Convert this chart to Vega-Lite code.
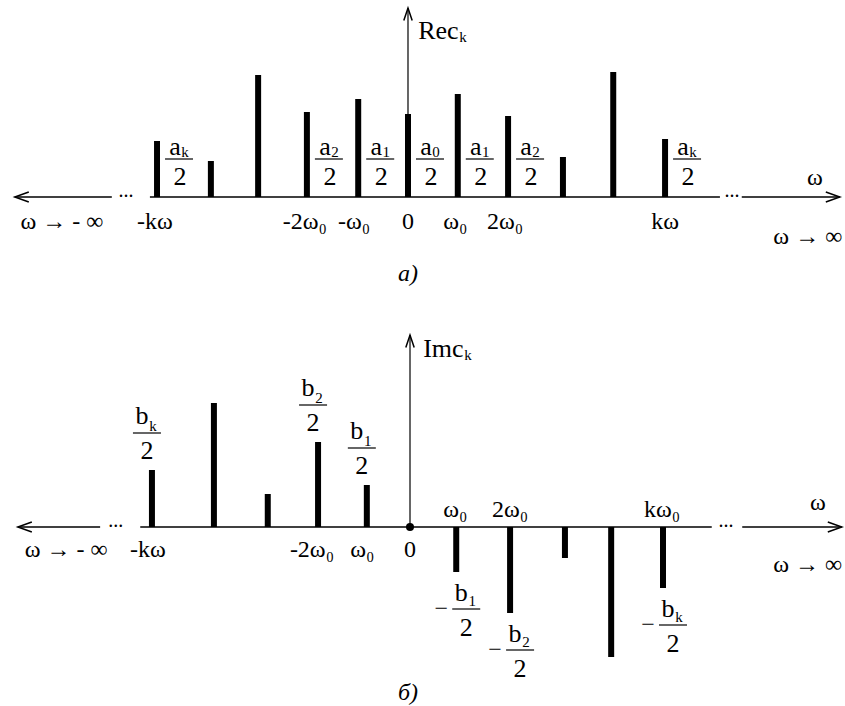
{
  "$schema": "https://vega.github.io/schema/vega-lite/v6.json",
  "padding": 0,
  "background": "white",
  "spacing": 0,
  "bounds": "flush",
  "config": {
    "view": {"stroke": null},
    "text": {"font": "Liberation Serif", "fontSize": 24, "color": "black"},
    "rule": {"color": "black"}
  },
  "datasets": {
    "re": [
      {"w": -4.94, "amp": 0.56, "sym": "a", "sub": "k"},
      {"w": -3.88, "amp": 0.36},
      {"w": -2.95, "amp": 1.22},
      {"w": -1.99, "amp": 0.85, "sym": "a", "sub": "2"},
      {"w": -0.98, "amp": 0.98, "sym": "a", "sub": "1"},
      {"w": 0, "amp": 0.83, "sym": "a", "sub": "0"},
      {"w": 0.98, "amp": 1.03, "sym": "a", "sub": "1"},
      {"w": 1.97, "amp": 0.81, "sym": "a", "sub": "2"},
      {"w": 3.05, "amp": 0.40},
      {"w": 4.04, "amp": 1.25},
      {"w": 5.06, "amp": 0.58, "sym": "a", "sub": "k"}
    ],
    "im": [
      {"w": -5.08, "amp": 0.57, "sym": "b", "sub": "k"},
      {"w": -3.86, "amp": 1.24},
      {"w": -2.80, "amp": 0.33},
      {"w": -1.81, "amp": 0.85, "sym": "b", "sub": "2"},
      {"w": -0.85, "amp": 0.42, "sym": "b", "sub": "1"},
      {"w": 0.91, "amp": -0.45, "sym": "b", "sub": "1"},
      {"w": 1.97, "amp": -0.86, "sym": "b", "sub": "2"},
      {"w": 3.05, "amp": -0.31},
      {"w": 3.96, "amp": -1.30},
      {"w": 4.98, "amp": -0.61, "sym": "b", "sub": "k"}
    ]
  },
  "vconcat": [
    {
      "width": 845,
      "height": 300,
      "layer": [
        {
          "data": {"values": [{"from": -7.74, "to": -5.83}, {"from": -5.08, "to": 6.14}, {"from": 6.57, "to": 8.5}]},
          "mark": {"type": "rule", "strokeWidth": 1.5},
          "encoding": {
            "x": {"field": "from", "type": "quantitative", "scale": {"domain": [-8.031, 8.602], "nice": false, "zero": false}, "axis": null},
            "x2": {"field": "to"},
            "y": {"datum": 0, "type": "quantitative", "scale": {"domain": [-1.03, 1.97], "nice": false, "zero": false}, "axis": null}
          }
        },
        {
          "data": {"values": [{"from": 0, "to": 1.89}]},
          "mark": {"type": "rule", "strokeWidth": 1.2},
          "encoding": {
            "x": {"datum": 0, "type": "quantitative", "scale": {"domain": [-8.031, 8.602], "nice": false, "zero": false}, "axis": null},
            "y": {"field": "from", "type": "quantitative", "scale": {"domain": [-1.03, 1.97], "nice": false, "zero": false}, "axis": null},
            "y2": {"field": "to"}
          }
        },
        {
          "data": {"values": [{"w": -7.74, "amp": 0, "dir": "left"}, {"w": 8.5, "amp": 0, "dir": "right"}, {"w": 0, "amp": 1.89, "dir": "up"}]},
          "mark": {"type": "point", "filled": false, "strokeWidth": 1.5, "size": 784, "opacity": 1, "color": "black"},
          "encoding": {
            "x": {"field": "w", "type": "quantitative", "scale": {"domain": [-8.031, 8.602], "nice": false, "zero": false}, "axis": null},
            "y": {"field": "amp", "type": "quantitative", "scale": {"domain": [-1.03, 1.97], "nice": false, "zero": false}, "axis": null},
            "shape": {"field": "dir", "type": "nominal", "scale": {"domain": ["left", "right", "up"], "range": ["M 1 -0.36 L 0 0 L 1 0.36", "M -1 -0.36 L 0 0 L -1 0.36", "M -0.3 0.9 L 0 0 L 0.3 0.9"]}, "legend": null}
          }
        },
        {
          "data": {"values": [{"w": -5.55}, {"w": 6.38}]},
          "mark": {"type": "text", "text": "...", "fontSize": 20, "baseline": "alphabetic"},
          "encoding": {
            "x": {"field": "w", "type": "quantitative", "scale": {"domain": [-8.031, 8.602], "nice": false, "zero": false}, "axis": null},
            "y": {"datum": 0, "type": "quantitative", "scale": {"domain": [-1.03, 1.97], "nice": false, "zero": false}, "axis": null}
          }
        },
        {
          "data": {"name": "re"},
          "mark": {"type": "rule", "strokeWidth": 6},
          "encoding": {
            "x": {"field": "w", "type": "quantitative", "scale": {"domain": [-8.031, 8.602], "nice": false, "zero": false}, "axis": null},
            "y": {"field": "amp", "type": "quantitative", "scale": {"domain": [-1.03, 1.97], "nice": false, "zero": false}, "axis": null},
            "y2": {"datum": 0}
          }
        },
        {
          "data": {"name": "re"},
          "transform": [{"filter": "datum.sym != null"}],
          "mark": {"type": "text", "fontSize": 26, "dx": 18, "baseline": "alphabetic"},
          "encoding": {
            "x": {"field": "w", "type": "quantitative", "scale": {"domain": [-8.031, 8.602], "nice": false, "zero": false}, "axis": null},
            "y": {"datum": 0.42, "type": "quantitative", "scale": {"domain": [-1.03, 1.97], "nice": false, "zero": false}, "axis": null},
            "text": {"field": "sym"}
          }
        },
        {
          "data": {"name": "re"},
          "transform": [{"filter": "datum.sym != null"}],
          "mark": {"type": "text", "fontSize": 15, "dx": 28, "baseline": "alphabetic"},
          "encoding": {
            "x": {"field": "w", "type": "quantitative", "scale": {"domain": [-8.031, 8.602], "nice": false, "zero": false}, "axis": null},
            "y": {"datum": 0.40, "type": "quantitative", "scale": {"domain": [-1.03, 1.97], "nice": false, "zero": false}, "axis": null},
            "text": {"field": "sub"}
          }
        },
        {
          "data": {"name": "re"},
          "transform": [{"filter": "datum.sym != null"}],
          "mark": {"type": "rule", "strokeWidth": 1.2, "xOffset": 8, "x2Offset": 36},
          "encoding": {
            "x": {"field": "w", "type": "quantitative", "scale": {"domain": [-8.031, 8.602], "nice": false, "zero": false}, "axis": null},
            "x2": {"field": "w"},
            "y": {"datum": 0.38, "type": "quantitative", "scale": {"domain": [-1.03, 1.97], "nice": false, "zero": false}, "axis": null}
          }
        },
        {
          "data": {"name": "re"},
          "transform": [{"filter": "datum.sym != null"}],
          "mark": {"type": "text", "text": "2", "fontSize": 26, "dx": 23, "baseline": "alphabetic"},
          "encoding": {
            "x": {"field": "w", "type": "quantitative", "scale": {"domain": [-8.031, 8.602], "nice": false, "zero": false}, "axis": null},
            "y": {"datum": 0.12, "type": "quantitative", "scale": {"domain": [-1.03, 1.97], "nice": false, "zero": false}, "axis": null}
          }
        },
        {
          "data": {"values": [
            {"w": -6.81, "label": "ω → - ∞"},
            {"w": -4.98, "label": "-kω"},
            {"w": -2.03, "label": "-2ω₀"},
            {"w": -1.06, "label": "-ω₀"},
            {"w": 0, "label": "0"},
            {"w": 0.93, "label": "ω₀"},
            {"w": 1.91, "label": "2ω₀"},
            {"w": 5.06, "label": "kω"}
          ]},
          "mark": {"type": "text", "baseline": "alphabetic"},
          "encoding": {
            "x": {"field": "w", "type": "quantitative", "scale": {"domain": [-8.031, 8.602], "nice": false, "zero": false}, "axis": null},
            "y": {"datum": -0.32, "type": "quantitative", "scale": {"domain": [-1.03, 1.97], "nice": false, "zero": false}, "axis": null},
            "text": {"field": "label"}
          }
        },
        {
          "data": {"values": [{"w": 7.87, "label": "ω → ∞"}]},
          "mark": {"type": "text", "baseline": "alphabetic"},
          "encoding": {
            "x": {"field": "w", "type": "quantitative", "scale": {"domain": [-8.031, 8.602], "nice": false, "zero": false}, "axis": null},
            "y": {"datum": -0.47, "type": "quantitative", "scale": {"domain": [-1.03, 1.97], "nice": false, "zero": false}, "axis": null},
            "text": {"field": "label"}
          }
        },
        {
          "data": {"values": [{"w": 8.01, "label": "ω"}]},
          "mark": {"type": "text", "baseline": "alphabetic"},
          "encoding": {
            "x": {"field": "w", "type": "quantitative", "scale": {"domain": [-8.031, 8.602], "nice": false, "zero": false}, "axis": null},
            "y": {"datum": 0.12, "type": "quantitative", "scale": {"domain": [-1.03, 1.97], "nice": false, "zero": false}, "axis": null},
            "text": {"field": "label"}
          }
        },
        {
          "data": {"values": [{"t": "Rec", "s": "k"}]},
          "mark": {"type": "text", "fontSize": 26, "align": "left", "baseline": "alphabetic"},
          "encoding": {
            "x": {"datum": 0.2, "type": "quantitative", "scale": {"domain": [-8.031, 8.602], "nice": false, "zero": false}, "axis": null},
            "y": {"datum": 1.58, "type": "quantitative", "scale": {"domain": [-1.03, 1.97], "nice": false, "zero": false}, "axis": null},
            "text": {"field": "t"}
          }
        },
        {
          "data": {"values": [{"t": "Rec", "s": "k"}]},
          "mark": {"type": "text", "fontSize": 15, "align": "left", "baseline": "alphabetic", "dx": 41, "dy": 3},
          "encoding": {
            "x": {"datum": 0.2, "type": "quantitative", "scale": {"domain": [-8.031, 8.602], "nice": false, "zero": false}, "axis": null},
            "y": {"datum": 1.58, "type": "quantitative", "scale": {"domain": [-1.03, 1.97], "nice": false, "zero": false}, "axis": null},
            "text": {"field": "s"}
          }
        },
        {
          "data": {"values": [{"caption": "а)"}]},
          "mark": {"type": "text", "fontSize": 24, "fontStyle": "italic", "baseline": "alphabetic"},
          "encoding": {
            "x": {"datum": 0, "type": "quantitative", "scale": {"domain": [-8.031, 8.602], "nice": false, "zero": false}, "axis": null},
            "y": {"datum": -0.84, "type": "quantitative", "scale": {"domain": [-1.03, 1.97], "nice": false, "zero": false}, "axis": null},
            "text": {"field": "caption"}
          }
        }
      ]
    },
    {
      "width": 845,
      "height": 406,
      "layer": [
        {
          "data": {"values": [{"from": -7.72, "to": -6.10}, {"from": -5.31, "to": 5.94}, {"from": 6.54, "to": 8.5}]},
          "mark": {"type": "rule", "strokeWidth": 1.5},
          "encoding": {
            "x": {"field": "from", "type": "quantitative", "scale": {"domain": [-8.071, 8.563], "nice": false, "zero": false}, "axis": null},
            "x2": {"field": "to"},
            "y": {"datum": 0, "type": "quantitative", "scale": {"domain": [-1.79, 2.27], "nice": false, "zero": false}, "axis": null}
          }
        },
        {
          "data": {"values": [{"from": 0, "to": 1.92}]},
          "mark": {"type": "rule", "strokeWidth": 1.2},
          "encoding": {
            "x": {"datum": 0, "type": "quantitative", "scale": {"domain": [-8.071, 8.563], "nice": false, "zero": false}, "axis": null},
            "y": {"field": "from", "type": "quantitative", "scale": {"domain": [-1.79, 2.27], "nice": false, "zero": false}, "axis": null},
            "y2": {"field": "to"}
          }
        },
        {
          "data": {"values": [{"w": -7.72, "amp": 0, "dir": "left"}, {"w": 8.5, "amp": 0, "dir": "right"}, {"w": 0, "amp": 1.92, "dir": "up"}]},
          "mark": {"type": "point", "filled": false, "strokeWidth": 1.5, "size": 784, "opacity": 1, "color": "black"},
          "encoding": {
            "x": {"field": "w", "type": "quantitative", "scale": {"domain": [-8.071, 8.563], "nice": false, "zero": false}, "axis": null},
            "y": {"field": "amp", "type": "quantitative", "scale": {"domain": [-1.79, 2.27], "nice": false, "zero": false}, "axis": null},
            "shape": {"field": "dir", "type": "nominal", "scale": {"domain": ["left", "right", "up"], "range": ["M 1 -0.36 L 0 0 L 1 0.36", "M -1 -0.36 L 0 0 L -1 0.36", "M -0.3 0.9 L 0 0 L 0.3 0.9"]}, "legend": null}
          }
        },
        {
          "data": {"values": [{"w": 0, "amp": 0}]},
          "mark": {"type": "point", "filled": true, "size": 64, "opacity": 1, "color": "black", "shape": "circle"},
          "encoding": {
            "x": {"field": "w", "type": "quantitative", "scale": {"domain": [-8.071, 8.563], "nice": false, "zero": false}, "axis": null},
            "y": {"field": "amp", "type": "quantitative", "scale": {"domain": [-1.79, 2.27], "nice": false, "zero": false}, "axis": null}
          }
        },
        {
          "data": {"values": [{"w": -5.79}, {"w": 6.22}]},
          "mark": {"type": "text", "text": "...", "fontSize": 20, "baseline": "alphabetic"},
          "encoding": {
            "x": {"field": "w", "type": "quantitative", "scale": {"domain": [-8.071, 8.563], "nice": false, "zero": false}, "axis": null},
            "y": {"datum": 0, "type": "quantitative", "scale": {"domain": [-1.79, 2.27], "nice": false, "zero": false}, "axis": null}
          }
        },
        {
          "data": {"name": "im"},
          "mark": {"type": "rule", "strokeWidth": 6},
          "encoding": {
            "x": {"field": "w", "type": "quantitative", "scale": {"domain": [-8.071, 8.563], "nice": false, "zero": false}, "axis": null},
            "y": {"field": "amp", "type": "quantitative", "scale": {"domain": [-1.79, 2.27], "nice": false, "zero": false}, "axis": null},
            "y2": {"datum": 0}
          }
        },
        {
          "data": {"name": "im"},
          "transform": [{"filter": "datum.sym != null && datum.amp > 0"}],
          "mark": {"type": "text", "fontSize": 26, "dx": -10, "dy": -46, "baseline": "alphabetic"},
          "encoding": {
            "x": {"field": "w", "type": "quantitative", "scale": {"domain": [-8.071, 8.563], "nice": false, "zero": false}, "axis": null},
            "y": {"field": "amp", "type": "quantitative", "scale": {"domain": [-1.79, 2.27], "nice": false, "zero": false}, "axis": null},
            "text": {"field": "sym"}
          }
        },
        {
          "data": {"name": "im"},
          "transform": [{"filter": "datum.sym != null && datum.amp > 0"}],
          "mark": {"type": "text", "fontSize": 15, "dx": 1, "dy": -39, "baseline": "alphabetic"},
          "encoding": {
            "x": {"field": "w", "type": "quantitative", "scale": {"domain": [-8.071, 8.563], "nice": false, "zero": false}, "axis": null},
            "y": {"field": "amp", "type": "quantitative", "scale": {"domain": [-1.79, 2.27], "nice": false, "zero": false}, "axis": null},
            "text": {"field": "sub"}
          }
        },
        {
          "data": {"name": "im"},
          "transform": [{"filter": "datum.sym != null && datum.amp > 0"}],
          "mark": {"type": "rule", "strokeWidth": 1.2, "xOffset": -19, "x2Offset": 9, "yOffset": -37},
          "encoding": {
            "x": {"field": "w", "type": "quantitative", "scale": {"domain": [-8.071, 8.563], "nice": false, "zero": false}, "axis": null},
            "x2": {"field": "w"},
            "y": {"field": "amp", "type": "quantitative", "scale": {"domain": [-1.79, 2.27], "nice": false, "zero": false}, "axis": null}
          }
        },
        {
          "data": {"name": "im"},
          "transform": [{"filter": "datum.sym != null && datum.amp > 0"}],
          "mark": {"type": "text", "text": "2", "fontSize": 26, "dx": -5, "dy": -11, "baseline": "alphabetic"},
          "encoding": {
            "x": {"field": "w", "type": "quantitative", "scale": {"domain": [-8.071, 8.563], "nice": false, "zero": false}, "axis": null},
            "y": {"field": "amp", "type": "quantitative", "scale": {"domain": [-1.79, 2.27], "nice": false, "zero": false}, "axis": null}
          }
        },
        {
          "data": {"name": "im"},
          "transform": [{"filter": "datum.sym != null && datum.amp < 0"}],
          "mark": {"type": "text", "fontSize": 26, "dx": 5, "dy": 29, "baseline": "alphabetic"},
          "encoding": {
            "x": {"field": "w", "type": "quantitative", "scale": {"domain": [-8.071, 8.563], "nice": false, "zero": false}, "axis": null},
            "y": {"field": "amp", "type": "quantitative", "scale": {"domain": [-1.79, 2.27], "nice": false, "zero": false}, "axis": null},
            "text": {"field": "sym"}
          }
        },
        {
          "data": {"name": "im"},
          "transform": [{"filter": "datum.sym != null && datum.amp < 0"}],
          "mark": {"type": "text", "fontSize": 15, "dx": 16, "dy": 34, "baseline": "alphabetic"},
          "encoding": {
            "x": {"field": "w", "type": "quantitative", "scale": {"domain": [-8.071, 8.563], "nice": false, "zero": false}, "axis": null},
            "y": {"field": "amp", "type": "quantitative", "scale": {"domain": [-1.79, 2.27], "nice": false, "zero": false}, "axis": null},
            "text": {"field": "sub"}
          }
        },
        {
          "data": {"name": "im"},
          "transform": [{"filter": "datum.sym != null && datum.amp < 0"}],
          "mark": {"type": "rule", "strokeWidth": 1.2, "xOffset": -4, "x2Offset": 24, "yOffset": 37},
          "encoding": {
            "x": {"field": "w", "type": "quantitative", "scale": {"domain": [-8.071, 8.563], "nice": false, "zero": false}, "axis": null},
            "x2": {"field": "w"},
            "y": {"field": "amp", "type": "quantitative", "scale": {"domain": [-1.79, 2.27], "nice": false, "zero": false}, "axis": null}
          }
        },
        {
          "data": {"name": "im"},
          "transform": [{"filter": "datum.sym != null && datum.amp < 0"}],
          "mark": {"type": "text", "text": "2", "fontSize": 26, "dx": 10, "dy": 64, "baseline": "alphabetic"},
          "encoding": {
            "x": {"field": "w", "type": "quantitative", "scale": {"domain": [-8.071, 8.563], "nice": false, "zero": false}, "axis": null},
            "y": {"field": "amp", "type": "quantitative", "scale": {"domain": [-1.79, 2.27], "nice": false, "zero": false}, "axis": null}
          }
        },
        {
          "data": {"name": "im"},
          "transform": [{"filter": "datum.sym != null && datum.amp < 0"}],
          "mark": {"type": "text", "text": "−", "fontSize": 24, "dx": -15, "dy": 44, "baseline": "alphabetic"},
          "encoding": {
            "x": {"field": "w", "type": "quantitative", "scale": {"domain": [-8.071, 8.563], "nice": false, "zero": false}, "axis": null},
            "y": {"field": "amp", "type": "quantitative", "scale": {"domain": [-1.79, 2.27], "nice": false, "zero": false}, "axis": null}
          }
        },
        {
          "data": {"values": [
            {"w": -6.77, "label": "ω → - ∞"},
            {"w": -5.16, "label": "-kω"},
            {"w": -1.93, "label": "-2ω₀"},
            {"w": -0.94, "label": "ω₀"},
            {"w": 0, "label": "0"}
          ]},
          "mark": {"type": "text", "baseline": "alphabetic"},
          "encoding": {
            "x": {"field": "w", "type": "quantitative", "scale": {"domain": [-8.071, 8.563], "nice": false, "zero": false}, "axis": null},
            "y": {"datum": -0.30, "type": "quantitative", "scale": {"domain": [-1.79, 2.27], "nice": false, "zero": false}, "axis": null},
            "text": {"field": "label"}
          }
        },
        {
          "data": {"values": [
            {"w": 0.89, "label": "ω₀"},
            {"w": 1.97, "label": "2ω₀"},
            {"w": 4.96, "label": "kω₀"}
          ]},
          "mark": {"type": "text", "baseline": "alphabetic"},
          "encoding": {
            "x": {"field": "w", "type": "quantitative", "scale": {"domain": [-8.071, 8.563], "nice": false, "zero": false}, "axis": null},
            "y": {"datum": 0.10, "type": "quantitative", "scale": {"domain": [-1.79, 2.27], "nice": false, "zero": false}, "axis": null},
            "text": {"field": "label"}
          }
        },
        {
          "data": {"values": [{"w": 7.83, "label": "ω → ∞"}]},
          "mark": {"type": "text", "baseline": "alphabetic"},
          "encoding": {
            "x": {"field": "w", "type": "quantitative", "scale": {"domain": [-8.071, 8.563], "nice": false, "zero": false}, "axis": null},
            "y": {"datum": -0.45, "type": "quantitative", "scale": {"domain": [-1.79, 2.27], "nice": false, "zero": false}, "axis": null},
            "text": {"field": "label"}
          }
        },
        {
          "data": {"values": [{"w": 8.03, "label": "ω"}]},
          "mark": {"type": "text", "baseline": "alphabetic"},
          "encoding": {
            "x": {"field": "w", "type": "quantitative", "scale": {"domain": [-8.071, 8.563], "nice": false, "zero": false}, "axis": null},
            "y": {"datum": 0.17, "type": "quantitative", "scale": {"domain": [-1.79, 2.27], "nice": false, "zero": false}, "axis": null},
            "text": {"field": "label"}
          }
        },
        {
          "data": {"values": [{"t": "Imc", "s": "k"}]},
          "mark": {"type": "text", "fontSize": 26, "align": "left", "baseline": "alphabetic"},
          "encoding": {
            "x": {"datum": 0.26, "type": "quantitative", "scale": {"domain": [-8.071, 8.563], "nice": false, "zero": false}, "axis": null},
            "y": {"datum": 1.70, "type": "quantitative", "scale": {"domain": [-1.79, 2.27], "nice": false, "zero": false}, "axis": null},
            "text": {"field": "t"}
          }
        },
        {
          "data": {"values": [{"t": "Imc", "s": "k"}]},
          "mark": {"type": "text", "fontSize": 15, "align": "left", "baseline": "alphabetic", "dx": 41, "dy": 3},
          "encoding": {
            "x": {"datum": 0.26, "type": "quantitative", "scale": {"domain": [-8.071, 8.563], "nice": false, "zero": false}, "axis": null},
            "y": {"datum": 1.70, "type": "quantitative", "scale": {"domain": [-1.79, 2.27], "nice": false, "zero": false}, "axis": null},
            "text": {"field": "s"}
          }
        },
        {
          "data": {"values": [{"caption": "б)"}]},
          "mark": {"type": "text", "fontSize": 24, "fontStyle": "italic", "baseline": "alphabetic"},
          "encoding": {
            "x": {"datum": -0.04, "type": "quantitative", "scale": {"domain": [-8.071, 8.563], "nice": false, "zero": false}, "axis": null},
            "y": {"datum": -1.73, "type": "quantitative", "scale": {"domain": [-1.79, 2.27], "nice": false, "zero": false}, "axis": null},
            "text": {"field": "caption"}
          }
        }
      ]
    }
  ]
}
